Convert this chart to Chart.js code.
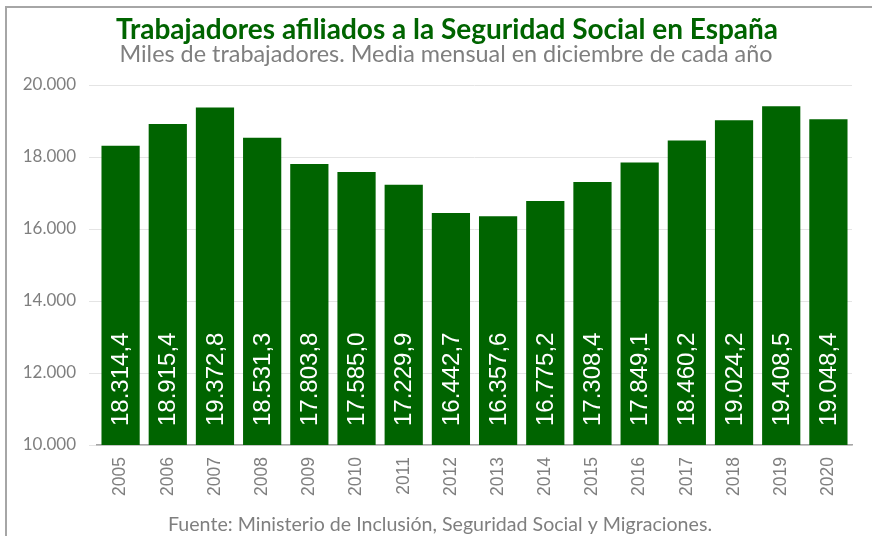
<!DOCTYPE html>
<html>
<head>
<meta charset="utf-8">
<script src="https://cdn.jsdelivr.net/npm/chart.js@4.4.0/dist/chart.umd.min.js"></script>
<style>
  html, body { margin: 0; padding: 0; background: #fff; }
  #wrap { width: 872px; height: 536px; position: relative; }
</style>
</head>
<body>
<div id="wrap"><canvas id="chart"></canvas></div>
<script>
// datos: miles de afiliados, media mensual de diciembre
const years = ['2005', '2006', '2007', '2008', '2009', '2010', '2011', '2012',
               '2013', '2014', '2015', '2016', '2017', '2018', '2019', '2020'];
const afiliados = [18314.4, 18915.4, 19372.8, 18531.3, 17803.8, 17585.0, 17229.9, 16442.7,
                   16357.6, 16775.2, 17308.4, 17849.1, 18460.2, 19024.2, 19408.5, 19048.4];
const yTicks = [10000, 12000, 14000, 16000, 18000, 20000];

const titleText = 'Trabajadores afiliados a la Seguridad Social en España';
const subtitleText = 'Miles de trabajadores. Media mensual en diciembre de cada año';
const footerText = 'Fuente: Ministerio de Inclusión, Seguridad Social y Migraciones.';

const GREEN = '#006400';
const GREY = '#7f7f7f';

function fmtMiles(v, dec) {
    const parts = v.toFixed(dec).split('.');
    parts[0] = parts[0].replace(/\B(?=(\d{3})+(?!\d))/g, '.');
    return parts.join(',');
}

// texto, marco y etiquetas de barra
const decor = {
    id: 'decor',
    beforeDraw(chart) {
        const ctx = chart.ctx;
        ctx.save();
        ctx.strokeStyle = '#a6a6a6';
        ctx.lineWidth = 2;
        ctx.beginPath();
        ctx.moveTo(6, 540);
        ctx.lineTo(6, 7);
        ctx.lineTo(875, 7);
        ctx.stroke();

        ctx.textAlign = 'center';
        ctx.textBaseline = 'alphabetic';
        ctx.fillStyle = GREEN;
        ctx.font = 'bold 28px Lato';
        ctx.fillText(titleText, 447, 39);
        ctx.fillStyle = GREY;
        ctx.font = '23.4px Lato';
        ctx.fillText(subtitleText, 446, 62);
        ctx.font = '19.6px Lato';
        ctx.fillText(footerText, 440, 531);
        ctx.restore();
    },
    afterDatasetsDraw(chart) {
        const ctx = chart.ctx;
        const meta = chart.getDatasetMeta(0);
        const base = chart.scales.y.getPixelForValue(10000);
        ctx.save();
        ctx.fillStyle = '#ffffff';
        ctx.font = '24px "Liberation Sans"';
        ctx.textAlign = 'left';
        ctx.textBaseline = 'middle';
        meta.data.forEach((bar, i) => {
            ctx.save();
            ctx.translate(bar.x + 1, base - 19);
            ctx.rotate(-Math.PI / 2);
            ctx.fillText(fmtMiles(afiliados[i], 1), 0, 0);
            ctx.restore();
        });
        ctx.restore();
    }
};

new Chart(document.getElementById('chart'), {
    type: 'bar',
    data: {
        labels: years,
        datasets: [{
            data: afiliados,
            backgroundColor: GREEN,
            borderWidth: 0,
            barPercentage: 0.81,
            categoryPercentage: 1.0
        }]
    },
    options: {
        responsive: true,
        maintainAspectRatio: false,
        animation: false,
        layout: { padding: { top: 85, right: 20, left: 0, bottom: 0 } },
        plugins: {
            legend: { display: false },
            tooltip: { enabled: false }
        },
        scales: {
            x: {
                grid: { display: false },
                border: { display: true, color: '#a6a6a6', width: 1.5 },
                ticks: {
                    color: GREY,
                    font: { family: 'Liberation Sans', size: 17.5 },
                    maxRotation: 90,
                    minRotation: 90,
                    padding: 4
                },
                afterFit(scale) { scale.height = 91; }
            },
            y: {
                min: 10000,
                max: 20000,
                afterBuildTicks(scale) { scale.ticks = yTicks.map(v => ({ value: v })); },
                grid: { color: '#e4e4e4', lineWidth: 1 },
                border: { display: false },
                ticks: {
                    color: GREY,
                    font: { family: 'Lato', size: 17 },
                    padding: 13,
                    callback: v => fmtMiles(v, 0)
                },
                afterFit(scale) { scale.width = 97; }
            }
        }
    },
    plugins: [decor]
});
</script>
</body>
</html>
